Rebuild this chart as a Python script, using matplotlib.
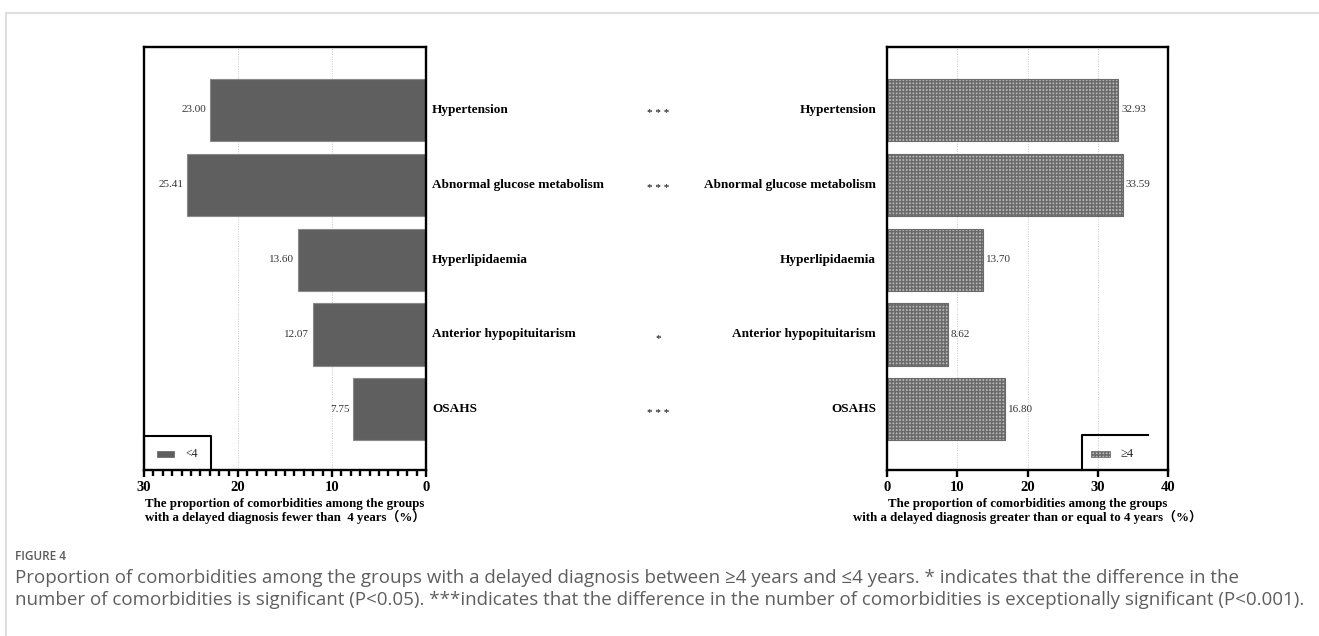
import matplotlib
matplotlib.use("Agg")
import matplotlib.pyplot as plt
import matplotlib.transforms as mtransforms
from matplotlib.lines import Line2D
from matplotlib.patches import Rectangle

# Comorbidities and their proportions (%) in each delay group
categories = ["Hypertension", "Abnormal glucose metabolism", "Hyperlipidaemia",
              "Anterior hypopituitarism", "OSAHS"]
under_four = [23.00, 25.41, 13.60, 12.07, 7.75]
four_plus = [32.93, 33.59, 13.70, 8.62, 16.80]
significance = ["* * *", "* * *", "", "*", "* * *"]

left_ticks = [30, 20, 10, 0]
right_ticks = [0, 10, 20, 30, 40]
left_xlabel = "The proportion of comorbidities among the groups\nwith a delayed diagnosis fewer than  4 years\uff08%\uff09"
right_xlabel = "The proportion of comorbidities among the groups\nwith a delayed diagnosis greater than or equal to 4 years\uff08%\uff09"
caption_title = "FIGURE 4"
caption_text = ("Proportion of comorbidities among the groups with a delayed diagnosis between \u22654 years and \u22644 years. * indicates that the difference in the\n"
                "number of comorbidities is significant (P<0.05). ***indicates that the difference in the number of comorbidities is exceptionally significant (P<0.001).")

SERIF = "Liberation Serif"
SERIF_CJK = [SERIF, "Noto Sans CJK SC"]
plt.rcParams["font.family"] = SERIF
plt.rcParams["hatch.linewidth"] = 1.1
plt.rcParams["hatch.color"] = "#6e6e6e"

W, H = 1319, 636
fig = plt.figure(figsize=(W / 100, H / 100), dpi=100)

def fx(px):
    return px / W

def fy(py):
    return 1 - py / H

ax_top, ax_bot = 47, 470
axL = fig.add_axes([fx(144), fy(ax_bot), fx(426 - 144), (ax_bot - ax_top) / H])
axR = fig.add_axes([fx(887), fy(ax_bot), fx(1168 - 887), (ax_bot - ax_top) / H])

ypos = list(range(len(categories)))
bar_h = 0.83
dark = "#5f5f5f"
hatch_face = "#b9b9b9"

# Left panel: solid dark bars growing leftwards
axL.barh(ypos, under_four, height=bar_h, color=dark, edgecolor="#8a8a8a",
         linewidth=0.8, zorder=2)
axL.set_xlim(30, 0)
# Right panel: cross-hatched bars
axR.barh(ypos, four_plus, height=bar_h, color=hatch_face, edgecolor="#6a6a6a",
         hatch="+++++", linewidth=0.8, zorder=2)
axR.set_xlim(0, 40)

for ax in (axL, axR):
    ax.set_ylim(4.81, -0.84)
    ax.set_yticks([])
    for sp in ax.spines.values():
        sp.set_linewidth(1.7)
        sp.set_color("black")
    ax.tick_params(axis="x", direction="out", length=5, width=1.7, pad=3,
                   labelsize=10.5)
    ax.grid(axis="x", linestyle=(0, (1, 1.5)), color="#c8c8c8", linewidth=0.7, zorder=0)
    ax.set_axisbelow(True)

axL.set_xticks(left_ticks)
axL.set_xticks(range(0, 31), minor=True)
axL.tick_params(axis="x", which="minor", direction="out", length=4.5, width=1.7)
axR.set_xticks(right_ticks)
for ax in (axL, axR):
    for lab in ax.get_xticklabels():
        lab.set_fontweight("bold")

axL.set_xlabel(left_xlabel, fontsize=9.3, fontweight="bold", labelpad=3,
               linespacing=1.0, family=SERIF_CJK)
axR.set_xlabel(right_xlabel, fontsize=9.3, fontweight="bold", labelpad=3,
               linespacing=1.0, family=SERIF_CJK)

# Value labels
for y, v in zip(ypos, under_four):
    axL.text(v + 0.4, y, f"{v:.2f}", ha="right", va="center", fontsize=8, color="#333333")
for y, v in zip(ypos, four_plus):
    axR.text(v + 0.4, y, f"{v:.2f}", ha="left", va="center", fontsize=8, color="#333333")

# Category names beside each panel and significance markers in between
tL = mtransforms.blended_transform_factory(fig.transFigure, axL.transData)
for y, name, sig in zip(ypos, categories, significance):
    axL.text(fx(432), y, name, transform=tL, ha="left", va="center",
             fontsize=9.5, fontweight="bold", clip_on=False)
    axL.text(fx(876), y, name, transform=tL, ha="right", va="center",
             fontsize=9.5, fontweight="bold", clip_on=False)
    if sig:
        axL.text(fx(658), y + 0.05, sig, transform=tL, ha="center", va="center",
                 fontsize=8, clip_on=False)

# Legend for the left panel (<4): closed box in the lower-left corner
axL.add_line(Line2D([30, 30, 22.9, 22.9], [4.81, 4.36, 4.36, 4.81], color="black",
                    linewidth=1.5, zorder=5, clip_on=False))
axL.add_patch(Rectangle((26.8, 4.56), 1.8, 0.08, facecolor=dark,
                        edgecolor=dark, linewidth=0.5, zorder=6))
axL.text(25.6, 4.60, "<4", ha="left", va="center", fontsize=8.5, color="#222222", zorder=6)

# Legend for the right panel (>=4): box open on its right side
axR.add_line(Line2D([27.7, 27.7, 37.1], [4.81, 4.34, 4.34], color="black",
                    linewidth=1.5, zorder=5, clip_on=False))
axR.add_patch(Rectangle((29.1, 4.56), 2.6, 0.08, facecolor=hatch_face, edgecolor="#6a6a6a",
                        hatch="+++++", linewidth=0.5, zorder=6))
axR.text(33.3, 4.60, "\u22654", ha="left", va="center", fontsize=9, color="#222222", zorder=6)

# Page frame lines
fig.add_artist(Line2D([fx(6), fx(1319)], [fy(13), fy(13)], color="#d9d9d9", linewidth=1.2))
fig.add_artist(Line2D([fx(6), fx(6)], [fy(13), fy(636)], color="#d9d9d9", linewidth=1.2))

# Caption
fig.text(fx(15), fy(556), caption_title, ha="left", va="center", fontsize=8.5,
         family="Open Sans", fontweight="semibold", color="#5a5a5a")
fig.text(fx(15), fy(589), caption_text, ha="left", va="center", fontsize=13.5,
         family="Open Sans", color="#5e5e5e", linespacing=1.3)

fig.savefig("out.png", dpi=100)
